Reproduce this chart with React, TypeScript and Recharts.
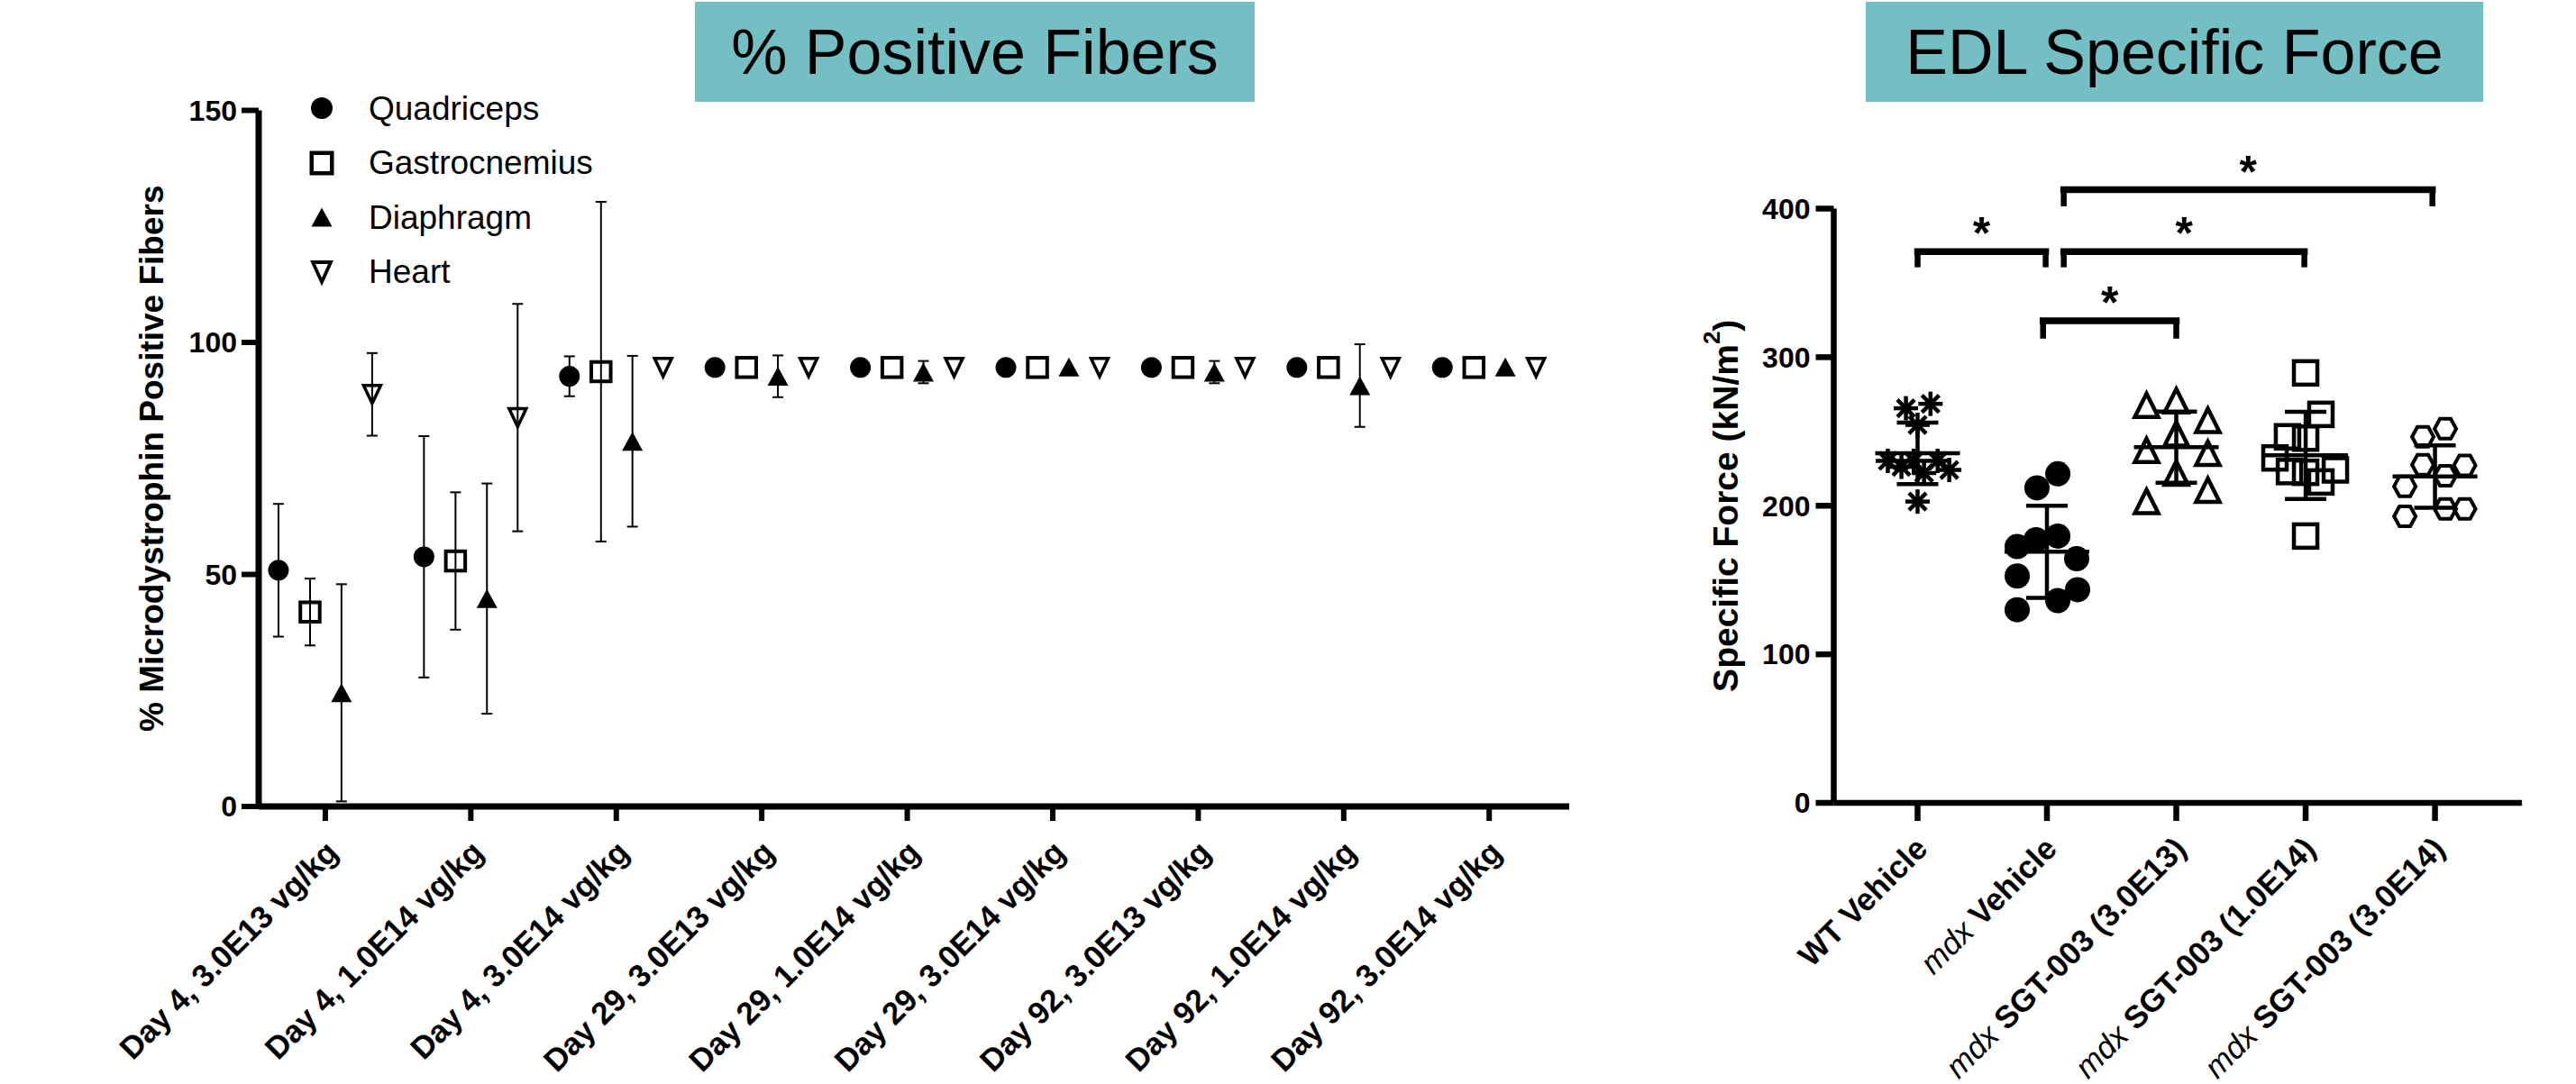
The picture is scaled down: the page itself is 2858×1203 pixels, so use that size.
import React from 'react';
import {
  ScatterChart,
  Scatter,
  XAxis,
  YAxis,
  ErrorBar,
  Legend,
  ReferenceLine,
  ReferenceDot
} from 'recharts';

const FONT = '"Liberation Sans", Arial, sans-serif';
const INK = '#000000';
const TEAL = '#73bfc4';

// ---- % Positive Fibers (left panel) ----
const doseGroups = [
  'Day 4, 3.0E13 vg/kg',
  'Day 4, 1.0E14 vg/kg',
  'Day 4, 3.0E14 vg/kg',
  'Day 29, 3.0E13 vg/kg',
  'Day 29, 1.0E14 vg/kg',
  'Day 29, 3.0E14 vg/kg',
  'Day 92, 3.0E13 vg/kg',
  'Day 92, 1.0E14 vg/kg',
  'Day 92, 3.0E14 vg/kg'
];
const quadricepsMean = [50.9, 53.8, 92.7, 94.6, 94.6, 94.6, 94.6, 94.6, 94.6];
const quadricepsSd = [14.3, 26, 4.3, 0, 0, 0, 0, 0, 0];
const gastrocnemiusMean = [41.9, 52.9, 93.7, 94.6, 94.6, 94.6, 94.6, 94.6, 94.6];
const gastrocnemiusSd = [7.2, 14.8, 36.6, 0, 0, 0, 0, 0, 0];
const diaphragmMean = [24.5, 44.8, 78.7, 92.7, 93.6, 94.7, 93.6, 90.7, 94.7];
const diaphragmSd = [23.4, 24.8, 18.4, 4.5, 2.4, 0, 2.4, 8.9, 0];
const heartMean = [88.8, 83.8, 94.6, 94.6, 94.6, 94.6, 94.6, 94.6, 94.6];
const heartSd = [8.9, 24.5, 0, 0, 0, 0, 0, 0, 0];
const fiberTicks = [0, 50, 100, 150];

// ---- EDL Specific Force (right panel) ----
const forceGroups = [
  'WT Vehicle',
  'mdx Vehicle',
  'mdx SGT-003 (3.0E13)',
  'mdx SGT-003 (1.0E14)',
  'mdx SGT-003 (3.0E14)'
];
const wtVehicle = [265.6, 268.6, 254.4, 230.2, 226.2, 230.2, 222, 230.2, 224.1, 202.8];
const wtVehicleSpread = [-0.09, 0.1, 0, -0.23, -0.125, -0.03, 0.05, 0.155, 0.245, 0];
const mdxVehicle = [221.5, 212, 179.6, 177.1, 172.5, 164.3, 152.7, 143.5, 136.1, 130];
const mdxVehicleSpread = [0.084, -0.077, 0.084, -0.084, -0.23, 0.23, -0.23, 0.237, 0.084, -0.23];
const sgtLow = [267.6, 270.6, 257.5, 248.4, 237.3, 235.3, 222, 210.5, 202.9];
const sgtLowSpread = [-0.23, 0, 0.244, 0, -0.23, 0.244, 0, 0.244, -0.23];
const sgtMid = [289.4, 261.5, 246.4, 245.5, 232.2, 224.1, 223, 222.5, 216, 179.6];
const sgtMidSpread = [0, 0.118, -0.14, 0, -0.237, 0.23, -0.125, 0, 0.118, 0];
const sgtHigh = [251.8, 246.4, 227.6, 227.2, 220.2, 213.1, 197.9, 197.9, 192.9];
const sgtHighSpread = [0.08, -0.094, -0.094, 0.23, 0.08, -0.233, 0.08, 0.23, -0.233];
const forceMean = [235.3, 169, 239.4, 233.9, 219.7];
const forceSd = [20.7, 31, 24, 29.3, 21];
const forceTicks = [0, 100, 200, 300, 400];

// significance brackets, in data units
const sigBrackets = [
  { from: 1.0, to: 1.99, top: 371, foot: 360.5, star: 390 },
  { from: 1.97, to: 3.0, top: 324.5, foot: 312.5, star: 343 },
  { from: 2.13, to: 3.99, top: 371, foot: 360.5, star: 390 },
  { from: 2.13, to: 4.98, top: 412.7, foot: 401.5, star: 431 }
];

type Pt = { x: number; y: number; err?: number };

const placeSeries = (mean: number[], sd: number[], dx: number): Pt[] =>
  mean.map((v, i) => ({ x: i + 1 + dx, y: v, err: sd[i] }));

const placeGroup = (values: number[], spread: number[], group: number): Pt[] =>
  values.map((v, i) => ({ x: group + spread[i], y: v }));

// ---- marker shapes ----
const filledCircle = (d: number) => (p: any) => (
  <circle cx={p.cx} cy={p.cy} r={d / 2} fill={INK} />
);

const openSquare = (s: number, w: number) => (p: any) => (
  <rect x={p.cx - s / 2} y={p.cy - s / 2} width={s} height={s} fill="none" stroke={INK} strokeWidth={w} />
);

const triangle = (wd: number, ht: number, filled: boolean, w: number, down = false) => (p: any) => {
  const { cx, cy } = p;
  const tip = down ? cy + ht / 2 : cy - ht / 2;
  const base = down ? cy - ht / 2 : cy + ht / 2;
  return (
    <polygon
      points={`${cx},${tip} ${cx + wd / 2},${base} ${cx - wd / 2},${base}`}
      fill={filled ? INK : 'none'}
      stroke={INK}
      strokeWidth={w}
    />
  );
};

const asterisk = (size: number, w: number) => (p: any) => {
  const { cx, cy } = p;
  const r = size / 2;
  const d = r * 0.707;
  return (
    <g stroke={INK} strokeWidth={w}>
      <line x1={cx} y1={cy - r} x2={cx} y2={cy + r} />
      <line x1={cx - r} y1={cy} x2={cx + r} y2={cy} />
      <line x1={cx - d} y1={cy - d} x2={cx + d} y2={cy + d} />
      <line x1={cx - d} y1={cy + d} x2={cx + d} y2={cy - d} />
    </g>
  );
};

const hexagon = (wd: number, ht: number, w: number) => (p: any) => {
  const { cx, cy } = p;
  const pts = [
    [cx - wd / 2, cy],
    [cx - wd / 4, cy - ht / 2],
    [cx + wd / 4, cy - ht / 2],
    [cx + wd / 2, cy],
    [cx + wd / 4, cy + ht / 2],
    [cx - wd / 4, cy + ht / 2]
  ];
  return <polygon points={pts.map((q) => q.join(',')).join(' ')} fill="none" stroke={INK} strokeWidth={w} />;
};

const meanLine = (len: number, w: number) => (p: any) => (
  <line x1={p.cx - len / 2} x2={p.cx + len / 2} y1={p.cy} y2={p.cy} stroke={INK} strokeWidth={w} />
);

const fiberSeries = [
  { name: 'Quadriceps', mean: quadricepsMean, sd: quadricepsSd, dx: -0.322, shape: filledCircle(23), icon: filledCircle(24) },
  { name: 'Gastrocnemius', mean: gastrocnemiusMean, sd: gastrocnemiusSd, dx: -0.105, shape: openSquare(21.5, 4), icon: openSquare(22.5, 4.5) },
  { name: 'Diaphragm', mean: diaphragmMean, sd: diaphragmSd, dx: 0.111, shape: triangle(23, 21, true, 0), icon: triangle(23, 21, true, 0) },
  { name: 'Heart', mean: heartMean, sd: heartSd, dx: 0.322, shape: triangle(19, 20, false, 3.5, true), icon: triangle(20, 22, false, 3.8, true) }
];

const forceSeries = [
  { values: wtVehicle, spread: wtVehicleSpread, shape: asterisk(27, 4.5) },
  { values: mdxVehicle, spread: mdxVehicleSpread, shape: filledCircle(28) },
  { values: sgtLow, spread: sgtLowSpread, shape: triangle(26, 26, false, 4.5) },
  { values: sgtMid, spread: sgtMidSpread, shape: openSquare(26, 4.5) },
  { values: sgtHigh, spread: sgtHighSpread, shape: hexagon(24, 22, 4) }
];

const DoseTick = (props: any) => {
  const { x, y, payload } = props;
  const label = doseGroups[Math.round(payload.value) - 1];
  const ax = x + 16;
  const ay = y - 5;
  return (
    <text x={ax} y={ay} transform={`rotate(-45, ${ax}, ${ay})`} textAnchor="end"
      fontFamily={FONT} fontSize={35} fontWeight="bold" fill={INK}>
      {label}
    </text>
  );
};

const ForceTick = (props: any) => {
  const { x, y, payload } = props;
  const label = forceGroups[Math.round(payload.value) - 1] || '';
  const isMdx = label.startsWith('mdx ');
  const rest = isMdx ? label.slice(3) : label;
  const ax = x + 13;
  const ay = y - 5;
  return (
    <text x={ax} y={ay} transform={`rotate(-45, ${ax}, ${ay})`} textAnchor="end"
      fontFamily={FONT} fontSize={35} fill={INK} style={{ whiteSpace: 'pre' }}>
      {isMdx && <tspan fontStyle="italic">mdx</tspan>}
      <tspan fontWeight="bold">{rest}</tspan>
    </text>
  );
};

const FiberLegend = () => (
  <div style={{ fontFamily: FONT, fontSize: 37, color: INK }}>
    {fiberSeries.map((s) => (
      <div key={s.name} style={{ display: 'flex', alignItems: 'center', height: 60.5 }}>
        <svg width={30} height={30} style={{ overflow: 'visible' }}>{s.icon({ cx: 15, cy: 15 })}</svg>
        <span style={{ marginLeft: 37, lineHeight: 1 }}>{s.name}</span>
      </div>
    ))}
  </div>
);

const TitleBox = ({ left, width, text }: { left: number; width: number; text: string }) => (
  <div style={{
    position: 'absolute', left, top: 2, width, height: 111, background: TEAL,
    display: 'flex', alignItems: 'center', justifyContent: 'center',
    fontFamily: FONT, fontSize: 70, color: INK, whiteSpace: 'nowrap'
  }}>
    {text}
  </div>
);

export default function App() {
  return (
    <div style={{ position: 'absolute', left: 0, top: 0, width: 2858, height: 1203, background: '#ffffff', overflow: 'hidden' }}>
      <TitleBox left={771} width={621} text="% Positive Fibers" />
      <TitleBox left={2070} width={685} text="EDL Specific Force" />

      <div style={{ position: 'absolute', left: 0, top: 0 }}>
        <ScatterChart width={1800} height={1203} margin={{ top: 122.5, right: 59, bottom: 58, left: 0 }}>
          <XAxis
            type="number"
            dataKey="x"
            domain={[0.542, 9.55]}
            ticks={[1, 2, 3, 4, 5, 6, 7, 8, 9]}
            interval={0}
            height={250}
            tickSize={16}
            tickMargin={42}
            axisLine={{ stroke: INK, strokeWidth: 7 }}
            tickLine={{ stroke: INK, strokeWidth: 6 }}
            tick={<DoseTick />}
          />
          <YAxis
            type="number"
            dataKey="y"
            domain={[0, 150]}
            ticks={fiberTicks}
            interval={0}
            width={287}
            tickSize={19}
            tickMargin={5}
            axisLine={{ stroke: INK, strokeWidth: 7 }}
            tickLine={{ stroke: INK, strokeWidth: 6 }}
            tick={{ fontSize: 32, fontWeight: 'bold', fill: INK, fontFamily: FONT }}
            label={(p: any) => {
              const vb = p.viewBox || { x: 0, y: 122.5, width: 287, height: 772 };
              const cx = vb.x + 168;
              const cy = vb.y + vb.height / 2;
              return (
                <text x={cx} y={cy} transform={`rotate(-90, ${cx}, ${cy})`} textAnchor="middle"
                  dominantBaseline="central" fontFamily={FONT} fontSize={37} fontWeight="bold" fill={INK}>
                  % Microdystrophin Positive Fibers
                </text>
              );
            }}
          />
          <Legend
            layout="vertical"
            align="center"
            verticalAlign="middle"
            content={() => <FiberLegend />}
            wrapperStyle={{ left: 342, top: 90, width: 420, height: 250 }}
          />
          {fiberSeries.map((s) => (
            <Scatter
              key={s.name}
              name={s.name}
              data={placeSeries(s.mean, s.sd, s.dx)}
              shape={s.shape}
              isAnimationActive={false}
            >
              <ErrorBar dataKey="err" direction="y" width={6} stroke={INK} strokeWidth={2} />
            </Scatter>
          ))}
        </ScatterChart>
      </div>

      <div style={{ position: 'absolute', left: 1850, top: 0 }}>
        <ScatterChart width={1008} height={1203} margin={{ top: 231.5, right: 60, bottom: 62, left: 0 }}>
          <XAxis
            type="number"
            dataKey="x"
            domain={[0.352, 5.672]}
            ticks={[1, 2, 3, 4, 5]}
            interval={0}
            height={250}
            tickSize={20}
            tickMargin={38}
            axisLine={{ stroke: INK, strokeWidth: 6.5 }}
            tickLine={{ stroke: INK, strokeWidth: 6.5 }}
            tick={<ForceTick />}
          />
          <YAxis
            type="number"
            dataKey="y"
            domain={[0, 400]}
            ticks={forceTicks}
            interval={0}
            width={184.5}
            tickSize={20}
            tickMargin={6}
            axisLine={{ stroke: INK, strokeWidth: 6.5 }}
            tickLine={{ stroke: INK, strokeWidth: 6.5 }}
            tick={{ fontSize: 32, fontWeight: 'bold', fill: INK, fontFamily: FONT }}
            label={(p: any) => {
              const vb = p.viewBox || { x: 0, y: 231.5, width: 184.5, height: 659.5 };
              const cx = vb.x + 64;
              const cy = vb.y + vb.height / 2;
              return (
                <text x={cx} y={cy} transform={`rotate(-90, ${cx}, ${cy})`} textAnchor="middle"
                  dominantBaseline="central" fontFamily={FONT} fontSize={39} fontWeight="bold" fill={INK}>
                  Specific Force (kN/m<tspan dy={-15} fontSize={26}>2</tspan><tspan dy={15}>)</tspan>
                </text>
              );
            }}
          />
          {forceSeries.map((s, i) => (
            <Scatter
              key={forceGroups[i]}
              name={forceGroups[i]}
              data={placeGroup(s.values, s.spread, i + 1)}
              shape={s.shape}
              isAnimationActive={false}
            />
          ))}
          <Scatter
            name="Mean ± SD"
            data={placeSeries(forceMean, forceSd, 0)}
            shape={meanLine(94, 4.5)}
            isAnimationActive={false}
          >
            <ErrorBar dataKey="err" direction="y" width={23} stroke={INK} strokeWidth={4.5} />
          </Scatter>
          {sigBrackets.map((b, i) => (
            <React.Fragment key={`br-${i}`}>
              <ReferenceLine segment={[{ x: b.from, y: b.foot }, { x: b.from, y: b.top }]} stroke={INK} strokeWidth={6.5} ifOverflow="visible" />
              <ReferenceLine segment={[{ x: b.to, y: b.foot }, { x: b.to, y: b.top }]} stroke={INK} strokeWidth={6.5} ifOverflow="visible" />
              <ReferenceLine segment={[{ x: b.from, y: b.top }, { x: b.to, y: b.top }]} stroke={INK} strokeWidth={7.5} strokeLinecap="square" ifOverflow="visible" />
              <ReferenceDot
                x={(b.from + b.to) / 2}
                y={b.star}
                r={0}
                ifOverflow="visible"
                shape={(p: any) => (
                  <text x={p.cx} y={p.cy + 28} textAnchor="middle" fontFamily={FONT} fontSize={50} fontWeight="bold" fill={INK}>*</text>
                )}
              />
            </React.Fragment>
          ))}
        </ScatterChart>
      </div>
    </div>
  );
}
